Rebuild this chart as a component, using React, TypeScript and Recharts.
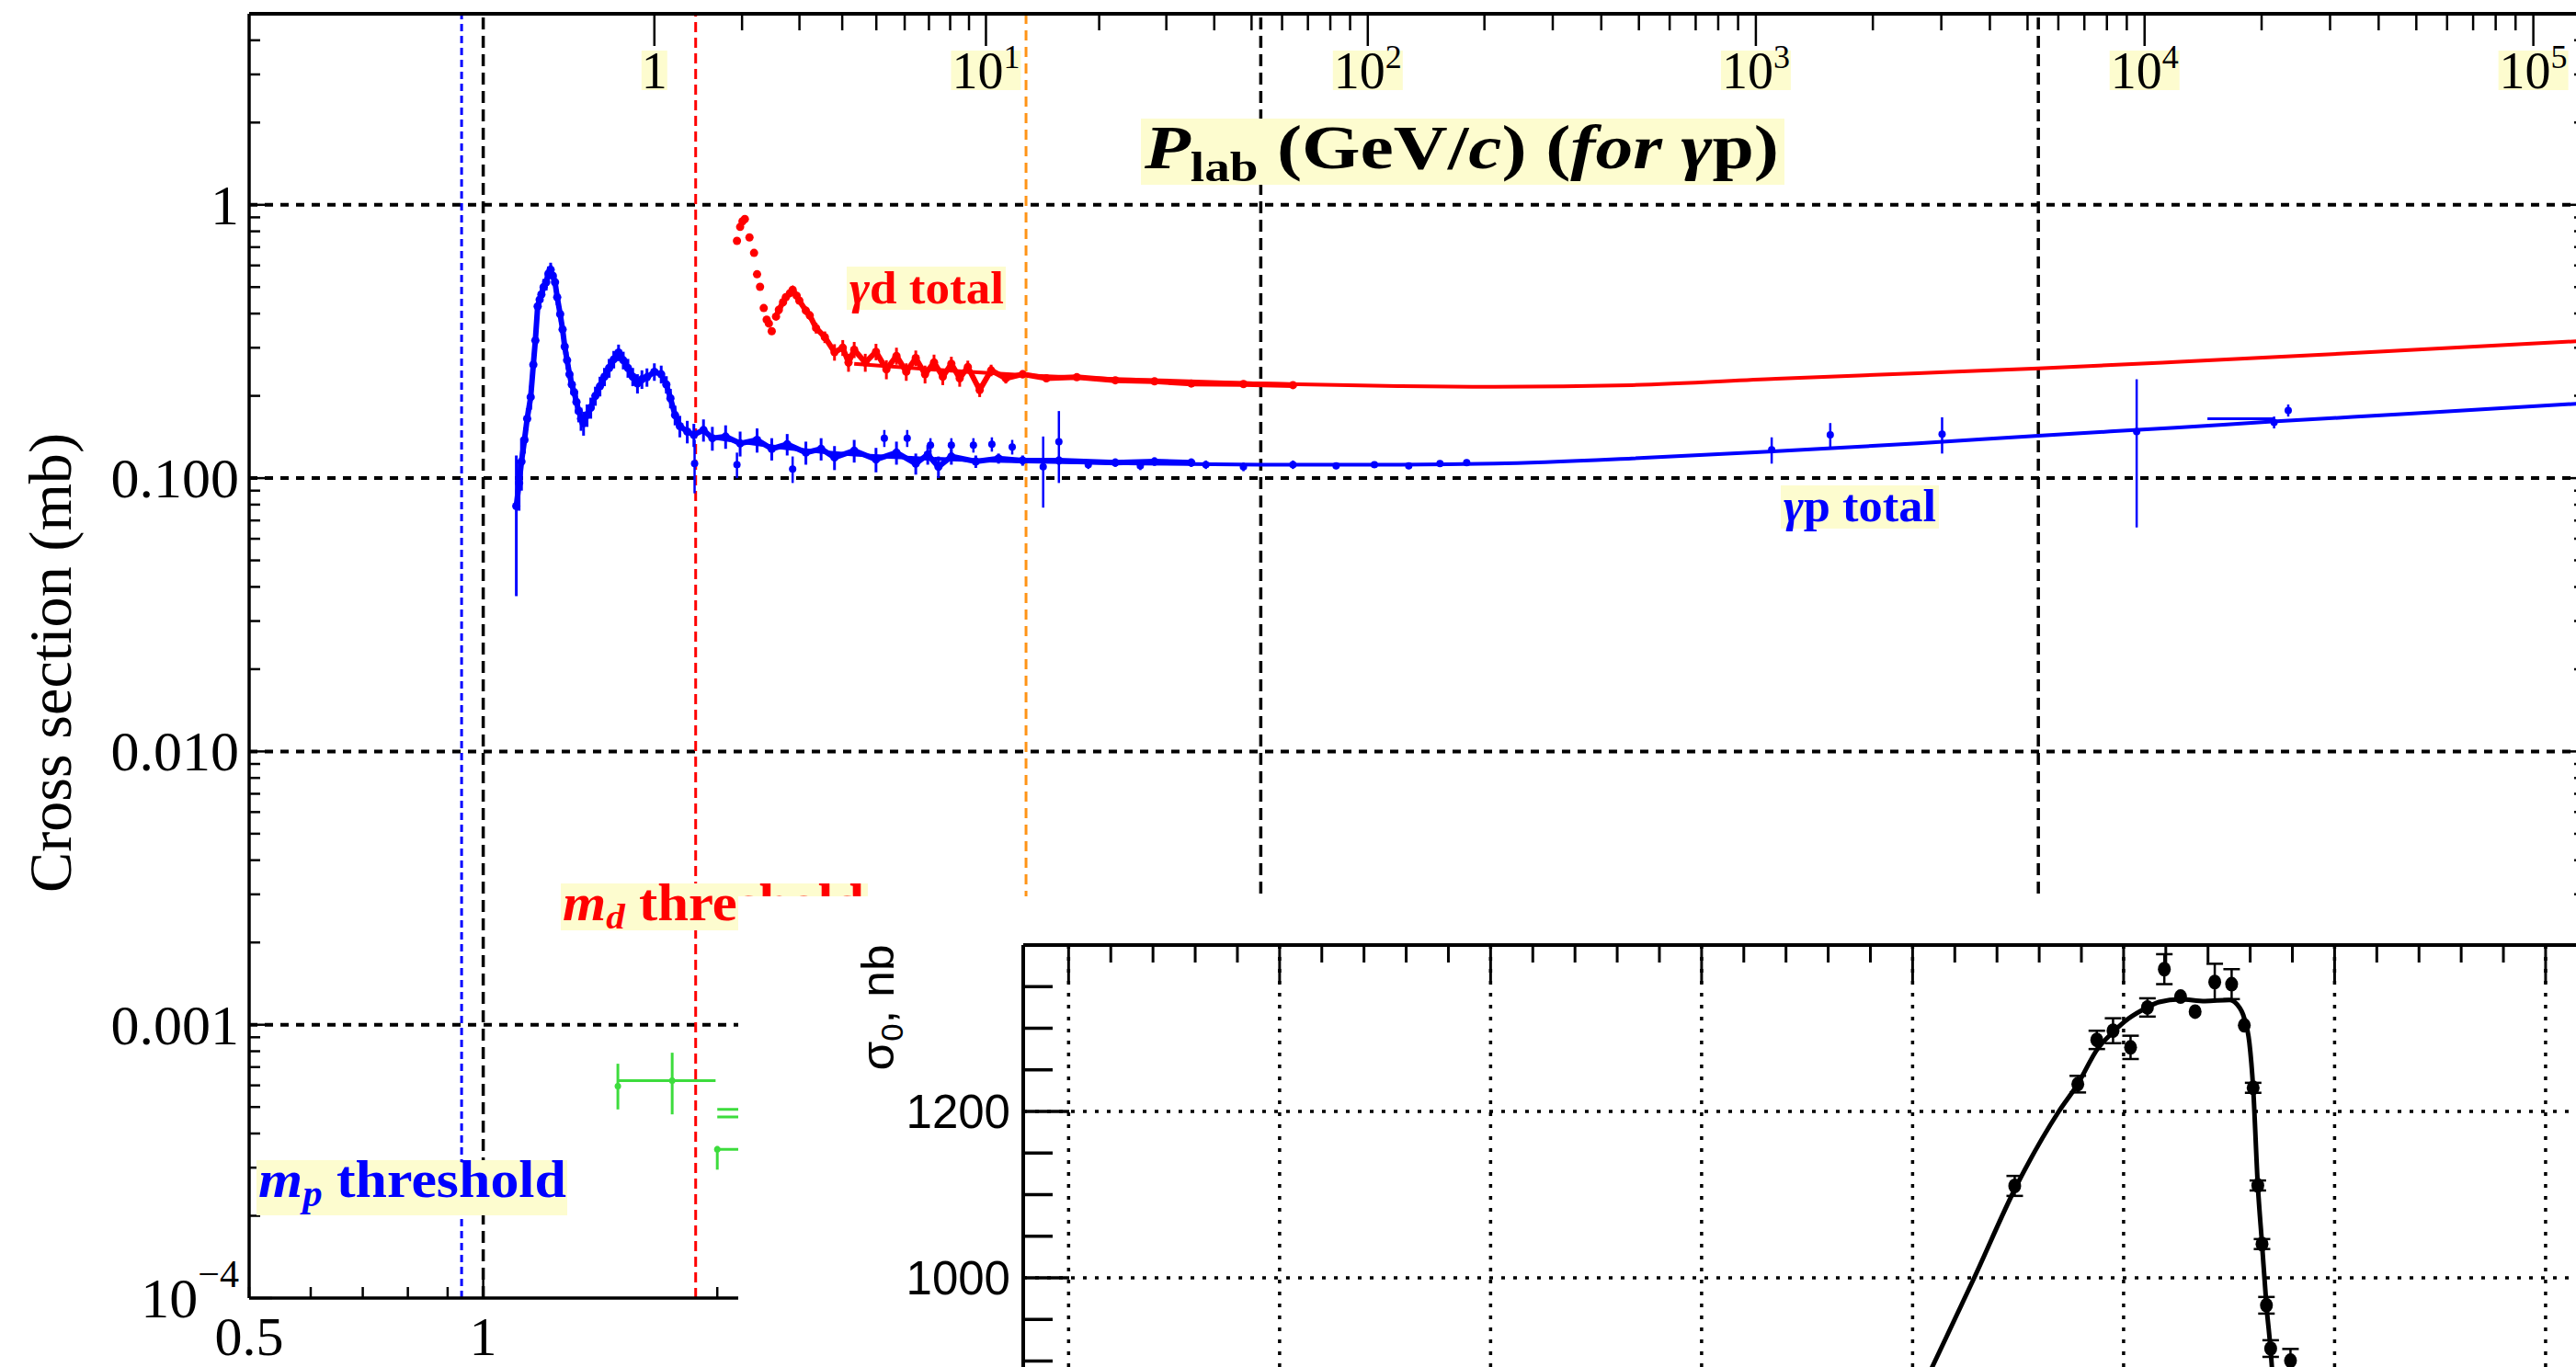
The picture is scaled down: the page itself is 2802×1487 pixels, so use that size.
import React from "react";
import { ComposedChart, Line, Scatter, XAxis, YAxis, ReferenceLine, ErrorBar } from "recharts";

const W = 2802;
const H = 1487;
const SERIF = "'Liberation Serif', 'Times New Roman', serif";
const SANS = "'Liberation Sans', Arial, sans-serif";
const LABEL_BG = "#fdfccf";
const RED = "#ff0000";
const BLUE = "#0000ff";
const GREEN = "#3ddc3d";
const ORANGE = "#ff9416";

// thresholds (GeV)
const M_P = 0.938;
const M_D = 1.876;
const ORANGE_CUT = 4.99;

// Plab (GeV/c) -> sqrt(s) (GeV) for γp, only used to place the top axis
const sqrtS = (plab: number) => Math.sqrt(M_P * M_P + 2 * M_P * plab);

// ---- γp total: [sqrt(s) GeV, sigma mb, error mb]
const gpBand = [
  [1.103, 0.079, 0.042], [1.112, 0.096, 0.02], [1.12, 0.115, 0.025], [1.13, 0.138, 0.015],
  [1.139, 0.165, 0.015], [1.151, 0.198, 0.02], [1.16, 0.26, 0.025], [1.167, 0.319, 0.025],
  [1.175, 0.425, 0.03], [1.182, 0.45, 0.03], [1.188, 0.47, 0.03], [1.196, 0.5, 0.035],
  [1.205, 0.521, 0.035], [1.213, 0.56, 0.035], [1.221, 0.579, 0.035], [1.229, 0.55, 0.035],
  [1.237, 0.521, 0.03], [1.245, 0.459, 0.03], [1.256, 0.398, 0.025], [1.265, 0.35, 0.02],
  [1.273, 0.303, 0.02], [1.282, 0.27, 0.02], [1.291, 0.24, 0.018], [1.3, 0.22, 0.018],
  [1.309, 0.206, 0.018], [1.318, 0.19, 0.018], [1.327, 0.176, 0.016], [1.336, 0.165, 0.016],
  [1.346, 0.159, 0.016], [1.36, 0.17, 0.016], [1.375, 0.181, 0.016], [1.394, 0.2, 0.016],
  [1.413, 0.217, 0.018], [1.432, 0.235, 0.018], [1.452, 0.253, 0.02], [1.472, 0.272, 0.02],
  [1.493, 0.288, 0.02], [1.514, 0.27, 0.02], [1.535, 0.253, 0.02], [1.557, 0.235, 0.018],
  [1.579, 0.222, 0.018], [1.6, 0.23, 0.018], [1.624, 0.234, 0.018], [1.66, 0.245, 0.018],
  [1.694, 0.24, 0.018], [1.72, 0.22, 0.016], [1.741, 0.196, 0.016], [1.765, 0.17, 0.014],
  [1.79, 0.155, 0.014], [1.83, 0.148, 0.014], [1.866, 0.144, 0.014], [1.92, 0.15, 0.014],
  [1.971, 0.14, 0.014], [2.05, 0.142, 0.014], [2.14, 0.134, 0.014], [2.25, 0.138, 0.014],
  [2.35, 0.128, 0.012], [2.46, 0.133, 0.012], [2.6, 0.124, 0.012], [2.72, 0.128, 0.012],
  [2.83, 0.119, 0.012], [3.0, 0.126, 0.012], [3.2, 0.117, 0.012], [3.4, 0.124, 0.012],
  [3.6, 0.113, 0.01], [3.73, 0.122, 0.01], [3.85, 0.11, 0.01], [4.0, 0.12, 0.008],
  [4.3, 0.115, 0.006], [4.6, 0.118, 0.005], [4.94, 0.116, 0.005], [5.5, 0.116, 0.004],
  [6.5, 0.114, 0.004], [7.3, 0.115, 0.004], [8.14, 0.114, 0.004],
];

const gpPoints = [
  [1.87, 0.113, 0.025], [2.12, 0.112, 0.012], [2.5, 0.108, 0.012], [3.28, 0.14, 0.01],
  [3.51, 0.14, 0.01], [3.76, 0.132, 0.008], [4.0, 0.132, 0.008], [4.27, 0.132, 0.008],
  [4.51, 0.133, 0.008], [4.79, 0.13, 0.008], [5.25, 0.11, 0.032], [5.5, 0.136, 0.04],
  [6.0, 0.112, 0.004], [7.0, 0.111, 0.004], [8.5, 0.112, 0.004], [9.5, 0.11, 0.004],
  [11, 0.112, 0.004], [12.5, 0.111, 0.003], [14, 0.112, 0.003], [15.5, 0.111, 0.003],
  [17, 0.113, 0.003], [18.4, 0.114, 0.003], [45.4, 0.127, 0.014], [54, 0.144, 0.015],
  [75.2, 0.145, 0.022], [133.8, 0.148, 0.082], [201, 0.16, 0.008], [209.6, 0.177, 0.009],
];

// horizontal bin bar near 200 GeV: [sqrt(s), sigma, half width]
const gpBins = [[183, 0.165, 18]];

const gpFit = [
  [2.0, 0.14], [2.5, 0.128], [3, 0.122], [4, 0.117], [5, 0.115], [7, 0.113], [10, 0.112],
  [15, 0.112], [20, 0.113], [30, 0.118], [45, 0.125], [70, 0.134], [100, 0.143],
  [150, 0.153], [200, 0.161], [300, 0.172], [505, 0.188],
];

// ---- γd total
const gdPeak = [
  [2.12, 0.738], [2.14, 0.83], [2.155, 0.87], [2.17, 0.887], [2.2, 0.76], [2.23, 0.667],
  [2.25, 0.557], [2.27, 0.501], [2.295, 0.419], [2.315, 0.38], [2.33, 0.368], [2.35, 0.345],
];

const gdBand = [
  [2.38, 0.39, 0.01], [2.4, 0.413, 0.012], [2.43, 0.44, 0.012], [2.45, 0.459, 0.012],
  [2.48, 0.475, 0.012], [2.5, 0.489, 0.015], [2.53, 0.465, 0.012], [2.55, 0.446, 0.012],
  [2.6, 0.41, 0.014], [2.63, 0.394, 0.014], [2.68, 0.354, 0.016], [2.75, 0.328, 0.016],
  [2.83, 0.289, 0.02], [2.9, 0.3, 0.02], [2.95, 0.265, 0.02], [3.0, 0.295, 0.02],
  [3.1, 0.265, 0.02], [3.2, 0.29, 0.02], [3.3, 0.25, 0.02], [3.4, 0.28, 0.02],
  [3.5, 0.245, 0.018], [3.6, 0.275, 0.018], [3.7, 0.24, 0.018], [3.8, 0.265, 0.018],
  [3.9, 0.235, 0.016], [4.0, 0.262, 0.016], [4.1, 0.232, 0.016], [4.2, 0.255, 0.014],
  [4.35, 0.21, 0.012], [4.5, 0.248, 0.012], [4.7, 0.232, 0.01], [4.94, 0.24, 0.008],
  [5.3, 0.232, 0.006], [5.8, 0.234, 0.006], [6.5, 0.228, 0.005], [7.3, 0.226, 0.005],
  [8.14, 0.222, 0.004], [9.5, 0.221, 0.004], [11, 0.219, 0.004],
];

const gdFit = [
  [3.0, 0.262], [4, 0.247], [5, 0.238], [7, 0.229], [10, 0.222], [15, 0.217], [20, 0.216],
  [30, 0.219], [46, 0.231], [70, 0.242], [100, 0.252], [150, 0.266], [200, 0.277],
  [300, 0.294], [505, 0.318],
];

// ---- green points: [sqrt(s), sigma, xLow, xHigh, yLow, yHigh]
const greenPts = [
  [1.49, 5.96e-4, 0, 0, 1.06e-4, 1.24e-4],
  [1.75, 6.24e-4, 0.26, 0.24, 1.54e-4, 1.66e-4],
  [2.0, 3.5e-4, 0, 0.2, 0.55e-4, 0.1e-4],
  [2.2, 4.9e-4, 0.2, 0.1, 0, 0],
  [2.2, 4.6e-4, 0.2, 0.1, 0, 0],
];

// ---- axes
const bottomTicks = [
  0.5, 0.6, 0.7, 0.8, 0.9, 1, 2, 3, 4, 5, 6, 7, 8, 9, 10, 20, 30, 40, 50, 60, 70, 80, 90,
  100, 200, 300, 400, 500,
];
const bottomLabels: Record<string, string> = { "0.5": "0.5", "1": "1" };
const plabDecades = [1, 10, 100, 1000, 10000];
const plabSteps = [1, 2, 3, 4, 5, 6, 7, 8, 9];
const plabTicks = [...plabDecades.flatMap((d) => plabSteps.map((s) => s * d)), 100000];
const plabTickPos = plabTicks.map(sqrtS);
const yDecades = [1e-4, 1e-3, 1e-2, 1e-1, 1];
const yTicks = yDecades.flatMap((d) => plabSteps.map((s) => s * d)).filter((v) => v <= 5);
const yLabels: Record<string, string> = { "0": "1", "-1": "0.100", "-2": "0.010", "-3": "0.001" };
const yGrid = [1, 0.1, 0.01, 0.001];
const xGrid = [1, 10, 100];

// ---- inset: [x (axis units), sigma0 nb]
const insetCurve = [
  [3.921, 800], [4.091, 891.7], [4.292, 1000], [4.492, 1110.5], [4.693, 1200], [4.783, 1233],
  [4.876, 1275], [4.95, 1295.4], [5.023, 1311.6], [5.111, 1324.9], [5.168, 1331.5],
  [5.268, 1334.8], [5.386, 1332.6], [5.502, 1334], [5.538, 1328.5], [5.572, 1311.9],
  [5.596, 1282.9], [5.614, 1228.4], [5.636, 1111.6], [5.656, 1040.9], [5.677, 966.9],
  [5.703, 891.7], [5.72, 800],
];
const insetPts = [
  [4.484, 1110.5, 12], [4.783, 1232.8, 10], [4.873, 1286, 11], [4.95, 1297, 15],
  [5.033, 1277, 14], [5.113, 1325, 11], [5.193, 1371, 18], [5.27, 1338, 0],
  [5.339, 1320, 0], [5.432, 1355.5, 22], [5.512, 1353, 18], [5.572, 1303.5, 0],
  [5.614, 1228.4, 6], [5.636, 1111, 6], [5.656, 1040.6, 6], [5.677, 967, 10],
  [5.697, 915, 10], [5.791, 900.5, 14],
];
const insetMajorX = [0, 1, 2, 3, 4, 5, 6, 7];
const insetXTicks = insetMajorX.flatMap((m) => [0, 0.2, 0.4, 0.6, 0.8].map((f) => m + f));
const insetYTicks = [850, 900, 950, 1000, 1050, 1100, 1150, 1200, 1250, 1300, 1350];
const insetYMajor = [1000, 1200];

const xy = (a: number[][]) => a.map(([x, y]) => ({ x, y }));
const xye = (a: number[][]) => a.map(([x, y, e]) => ({ x, y, e }));

const isDecade = (v: number) => Math.abs(Math.log10(v) - Math.round(Math.log10(v))) < 1e-6;

const PLOT_RIGHT = 2812;

function renderBottomTick(props: any) {
  const { x, y, payload } = props;
  const v = payload.value;
  const len = isDecade(v) ? 22 : 12;
  const label = bottomLabels[String(v)];
  return (
    <g>
      <line x1={x} x2={x} y1={y} y2={y - len} stroke="#000" strokeWidth={2.5} />
      {label && (
        <text x={x} y={y + 62} textAnchor="middle" fontFamily={SERIF} fontSize={60} fill="#000">
          {label}
        </text>
      )}
    </g>
  );
}

function renderTopTick(props: any) {
  const { x, y, index } = props;
  const p = plabTicks[index];
  const major = isDecade(p);
  const k = Math.round(Math.log10(p));
  return (
    <g>
      <line x1={x} x2={x} y1={y} y2={y + (major ? 35 : 18)} stroke="#000" strokeWidth={2.5} />
      {major && (
        <g>
          <rect x={x - (k === 0 ? 14 : 38)} y={y + 40} width={k === 0 ? 28 : 76} height={43} fill={LABEL_BG} />
          <text x={x} y={y + 81} textAnchor="middle" fontFamily={SERIF} fontSize={56} fill="#000">
            {k === 0 ? (
              "1"
            ) : (
              <>
                <tspan>10</tspan>
                <tspan fontSize={36} dy={-22}>
                  {k}
                </tspan>
              </>
            )}
          </text>
        </g>
      )}
    </g>
  );
}

function renderLeftTick(props: any) {
  const { x, y, payload } = props;
  const v = payload.value;
  const major = isDecade(v);
  const len = major ? 25 : 12;
  const k = Math.round(Math.log10(v));
  return (
    <g>
      <line x1={x} x2={x + len} y1={y} y2={y} stroke="#000" strokeWidth={2.5} />
      <line x1={PLOT_RIGHT} x2={PLOT_RIGHT - len} y1={y} y2={y} stroke="#000" strokeWidth={2.5} />
      {major && (
        <text x={x - 11} y={y + 21} textAnchor="end" fontFamily={SERIF} fontSize={62} fill="#000">
          {k === -4 ? (
            <>
              <tspan>10</tspan>
              <tspan fontSize={42} dy={-33}>
                {"\u2212"}4
              </tspan>
            </>
          ) : (
            yLabels[String(k)]
          )}
        </text>
      )}
    </g>
  );
}

function renderInsetTopTick(props: any) {
  const { x, y, payload } = props;
  const v = payload.value;
  const major = Math.abs(v - Math.round(v)) < 1e-6;
  return <line x1={x} x2={x} y1={y} y2={y + (major ? 42 : 19)} stroke="#000" strokeWidth={3} />;
}

function renderInsetLeftTick(props: any) {
  const { x, y, payload } = props;
  const v = payload.value;
  const major = insetYMajor.includes(v);
  return (
    <g>
      <line x1={x} x2={x + (major ? 50 : 32)} y1={y} y2={y} stroke="#000" strokeWidth={3.5} />
      {major && (
        <text x={x - 14} y={y + 18} textAnchor="end" fontFamily={SANS} fontSize={51} fill="#000">
          {v}
        </text>
      )}
    </g>
  );
}

const dot = (color: string, r: number) => (p: any) =>
  p.cx == null ? <g /> : <circle cx={p.cx} cy={p.cy} r={r} fill={color} />;

const insetDot = (p: any) =>
  p.cx == null ? <g /> : <ellipse cx={p.cx} cy={p.cy} rx={7} ry={8} fill="#000" />;

function LabelBox(props: { x: number; y: number; w: number; h: number }) {
  return <rect x={props.x} y={props.y} width={props.w} height={props.h} fill={LABEL_BG} />;
}

export default function App() {
  return (
    <div
      style={{ position: "fixed", left: 0, top: 0, width: W, height: H, overflow: "hidden", background: "#fff" }}
    >
      <div style={{ position: "absolute", left: 0, top: 0 }}>
        <ComposedChart width={2830} height={H} margin={{ top: 14, right: 18, bottom: 74, left: 270 }}>
          <XAxis
            dataKey="x"
            type="number"
            scale="log"
            domain={[0.5, 505]}
            allowDataOverflow
            ticks={bottomTicks}
            interval={0}
            height={1}
            tickSize={0}
            tickMargin={0}
            tickLine={false}
            axisLine={{ stroke: "#000", strokeWidth: 3.5 }}
            tick={renderBottomTick}
          />
          <XAxis
            xAxisId="plab"
            orientation="top"
            dataKey="x"
            type="number"
            scale="log"
            domain={[0.5, 505]}
            allowDataOverflow
            ticks={plabTickPos}
            interval={0}
            height={1}
            tickSize={0}
            tickMargin={0}
            tickLine={false}
            axisLine={{ stroke: "#000", strokeWidth: 4 }}
            tick={renderTopTick}
          />
          <YAxis
            dataKey="y"
            type="number"
            scale="log"
            domain={[1e-4, 5]}
            allowDataOverflow
            ticks={yTicks}
            interval={0}
            width={1}
            tickSize={0}
            tickMargin={0}
            tickLine={false}
            axisLine={{ stroke: "#000", strokeWidth: 3.5 }}
            tick={renderLeftTick}
          />

          {yGrid.map((v) => (
            <ReferenceLine key={"gy" + v} y={v} stroke="#000" strokeWidth={4} strokeDasharray="9 8" />
          ))}
          {xGrid.map((v) => (
            <ReferenceLine key={"gx" + v} x={v} stroke="#000" strokeWidth={3.5} strokeDasharray="13 7" />
          ))}
          <ReferenceLine x={M_P} stroke={BLUE} strokeWidth={3} strokeDasharray="8 5" />
          <ReferenceLine x={M_D} stroke={RED} strokeWidth={3} strokeDasharray="11 6" />
          <ReferenceLine x={ORANGE_CUT} stroke={ORANGE} strokeWidth={3} strokeDasharray="11 7" />

          <Line data={xy(gpFit)} dataKey="y" type="monotone" stroke={BLUE} strokeWidth={4} dot={false} isAnimationActive={false} />
          <Line data={xy(gdFit)} dataKey="y" type="monotone" stroke={RED} strokeWidth={4} dot={false} isAnimationActive={false} />

          <Line data={xye(gpBand)} dataKey="y" type="linear" stroke={BLUE} strokeWidth={6} dot={false} isAnimationActive={false} />
          <Scatter data={xye(gpBand)} dataKey="y" shape={dot(BLUE, 4.5)} isAnimationActive={false}>
            <ErrorBar dataKey="e" direction="y" width={0} stroke={BLUE} strokeWidth={3} />
          </Scatter>
          <Scatter data={xye(gpPoints)} dataKey="y" shape={dot(BLUE, 4)} isAnimationActive={false}>
            <ErrorBar dataKey="e" direction="y" width={0} stroke={BLUE} strokeWidth={2.5} />
          </Scatter>
          <Scatter data={xye(gpBins)} dataKey="y" shape={() => <g />} isAnimationActive={false}>
            <ErrorBar dataKey="e" direction="x" width={0} stroke={BLUE} strokeWidth={3} />
          </Scatter>

          <Scatter data={xy(gdPeak)} dataKey="y" shape={dot(RED, 4.5)} isAnimationActive={false} />
          <Line data={xye(gdBand)} dataKey="y" type="linear" stroke={RED} strokeWidth={6} dot={false} isAnimationActive={false} />
          <Scatter data={xye(gdBand)} dataKey="y" shape={dot(RED, 4.5)} isAnimationActive={false}>
            <ErrorBar dataKey="e" direction="y" width={0} stroke={RED} strokeWidth={3} />
          </Scatter>

          <Scatter
            data={greenPts.map(([x, y, xl, xh, yl, yh]) => ({ x, y, ex: [xl, xh], ey: [yl, yh] }))}
            dataKey="y"
            shape={dot(GREEN, 3.5)}
            isAnimationActive={false}
          >
            <ErrorBar dataKey="ex" direction="x" width={0} stroke={GREEN} strokeWidth={3} />
            <ErrorBar dataKey="ey" direction="y" width={0} stroke={GREEN} strokeWidth={3} />
          </Scatter>
        </ComposedChart>
      </div>

      <svg width={W} height={H} style={{ position: "absolute", left: 0, top: 0, pointerEvents: "none" }}>
        <text
          transform="rotate(-90, 77, 721)"
          x={77}
          y={721}
          textAnchor="middle"
          fontFamily={SERIF}
          fontSize={66}
          textLength={500}
          lengthAdjust="spacingAndGlyphs"
          fill="#000"
        >
          Cross section (mb)
        </text>

        <LabelBox x={1241} y={129} w={700} h={72} />
        <text x={1245} y={183} fontFamily={SERIF} fontWeight="bold" fontSize={68} textLength={690} lengthAdjust="spacingAndGlyphs" fill="#000">
          <tspan fontStyle="italic">P</tspan>
          <tspan fontSize={46} dy={14}>lab</tspan>
          <tspan dy={-14}>{"\u00a0(GeV/"}</tspan>
          <tspan fontStyle="italic">c</tspan>
          <tspan>{")\u00a0("}</tspan>
          <tspan fontStyle="italic">for</tspan>
          <tspan>{"\u00a0"}</tspan>
          <tspan fontStyle="italic">γ</tspan>
          <tspan>p)</tspan>
        </text>

        <LabelBox x={921} y={290} w={173} h={47} />
        <text x={924} y={330} fontFamily={SERIF} fontWeight="bold" fontSize={50} textLength={168} lengthAdjust="spacingAndGlyphs" fill={RED}>
          <tspan fontStyle="italic">γ</tspan>
          <tspan>{"d\u00a0total"}</tspan>
        </text>

        <LabelBox x={1937} y={528} w={172} h={47} />
        <text x={1940} y={567} fontFamily={SERIF} fontWeight="bold" fontSize={50} textLength={166} lengthAdjust="spacingAndGlyphs" fill={BLUE}>
          <tspan fontStyle="italic">γ</tspan>
          <tspan>{"p\u00a0total"}</tspan>
        </text>

        <LabelBox x={610} y={961} w={334} h={51} />
        <text x={612} y={1001} fontFamily={SERIF} fontWeight="bold" fontSize={56} textLength={328} lengthAdjust="spacingAndGlyphs" fill={RED}>
          <tspan fontStyle="italic">m</tspan>
          <tspan fontStyle="italic" fontSize={38} dy={9}>d</tspan>
          <tspan dy={-9}>{"\u00a0threshold"}</tspan>
        </text>

        <LabelBox x={279} y={1262} w={338} h={60} />
        <text x={281} y={1302} fontFamily={SERIF} fontWeight="bold" fontSize={58} textLength={335} lengthAdjust="spacingAndGlyphs" fill={BLUE}>
          <tspan fontStyle="italic">m</tspan>
          <tspan fontStyle="italic" fontSize={40} dy={10}>p</tspan>
          <tspan dy={-10}>{"\u00a0threshold"}</tspan>
        </text>
      </svg>

      <div
        style={{ position: "absolute", left: 803, top: 975, width: W - 803, height: H - 975, background: "#fff", overflow: "hidden" }}
      >
        <div style={{ position: "absolute", left: 0, top: 0 }}>
          <ComposedChart width={2100} height={700} margin={{ top: 52, right: 20, bottom: 104, left: 309 }}>
            <XAxis
              dataKey="u"
              type="number"
              orientation="top"
              domain={[-0.215, 7.497]}
              allowDataOverflow
              ticks={insetXTicks}
              interval={0}
              height={1}
              tickSize={0}
              tickMargin={0}
              tickLine={false}
              axisLine={{ stroke: "#000", strokeWidth: 4 }}
              tick={renderInsetTopTick}
            />
            <YAxis
              dataKey="nb"
              type="number"
              domain={[800, 1400]}
              allowDataOverflow
              ticks={insetYTicks}
              interval={0}
              width={1}
              tickSize={0}
              tickMargin={0}
              tickLine={false}
              axisLine={{ stroke: "#000", strokeWidth: 4 }}
              tick={renderInsetLeftTick}
            />
            {insetMajorX.map((v) => (
              <ReferenceLine key={"ix" + v} x={v} stroke="#000" strokeWidth={3.5} strokeDasharray="4 9" />
            ))}
            {insetYMajor.map((v) => (
              <ReferenceLine key={"iy" + v} y={v} stroke="#000" strokeWidth={3.5} strokeDasharray="4 9" />
            ))}
            <Line
              data={insetCurve.map(([u, nb]) => ({ u, nb }))}
              dataKey="nb"
              type="monotone"
              stroke="#000"
              strokeWidth={5}
              dot={false}
              isAnimationActive={false}
            />
            <Scatter
              data={insetPts.map(([u, nb, e]) => ({ u, nb, e }))}
              dataKey="nb"
              shape={insetDot}
              isAnimationActive={false}
            >
              <ErrorBar dataKey="e" direction="y" width={9} stroke="#000" strokeWidth={2.5} />
            </Scatter>
          </ComposedChart>
        </div>
        <svg width={400} height={300} style={{ position: "absolute", left: 0, top: 0 }}>
          <text
            transform="rotate(-90, 169, 121)"
            x={169}
            y={121}
            textAnchor="middle"
            fontFamily={SANS}
            fontSize={50}
            textLength={137}
            lengthAdjust="spacingAndGlyphs"
            fill="#000"
          >
            <tspan>σ</tspan>
            <tspan fontSize={34} dy={10}>0</tspan>
            <tspan dy={-10}>, nb</tspan>
          </text>
        </svg>
      </div>
    </div>
  );
}
